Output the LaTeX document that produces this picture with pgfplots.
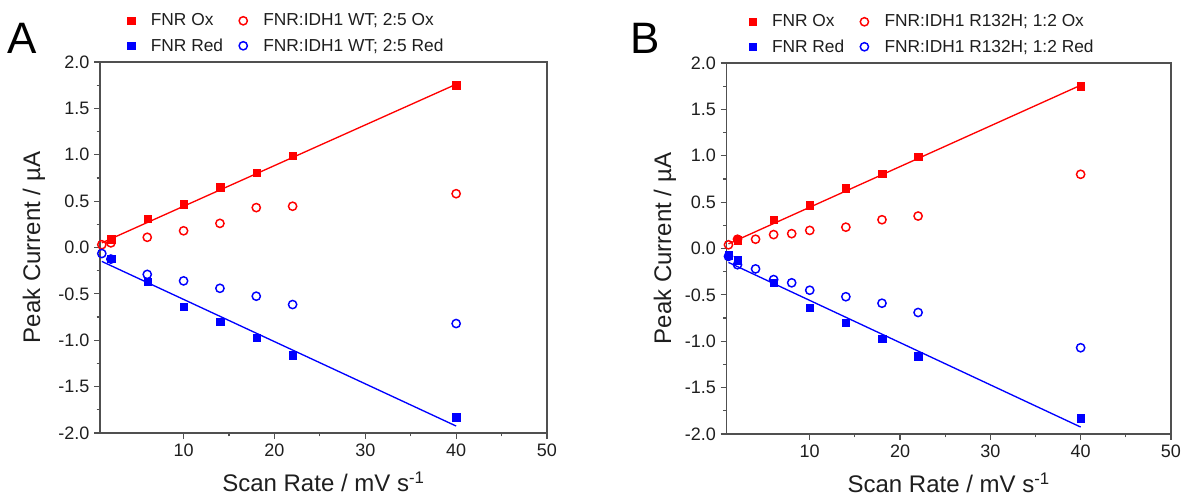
\documentclass[border=0pt]{standalone}
\usepackage{fontspec}
\setmainfont{Liberation Sans}
\usepackage{pgfplots}
\pgfplotsset{compat=1.18}
\definecolor{fr}{RGB}{255,0,0}
\definecolor{fb}{RGB}{0,0,255}
\definecolor{axc}{RGB}{80,80,80}
\definecolor{txt}{RGB}{30,30,30}
\pgfplotsset{
  panel/.style={
    scale only axis, height=278.25pt,
    xmin=0.8, xmax=50, ymin=-2, ymax=2,
    xtick={10,20,30,40,50}, ytick={-2,-1.5,-1,-0.5,0,0.5,1,1.5,2},
    minor x tick num=1, minor y tick num=1,
    tick pos=left, tick align=outside,
    major tick length=4.5pt, minor tick length=2.6pt,
    axis line style={axc, line width=1pt},
    every tick/.style={axc, line width=0.9pt},
    /pgf/number format/assume math mode=true,
    tick label style={font=\fontsize{13.5}{15}\selectfont, text=txt},
    yticklabel style={/pgf/number format/.cd, fixed, fixed zerofill, precision=1},
    xticklabel style={/pgf/number format/.cd, fixed, precision=0},
    label style={font=\fontsize{18}{20}\selectfont, text=txt},
    xlabel={Scan Rate / mV s\textsuperscript{-1}},
    ylabel={Peak Current / µA},
    xlabel style={at={(axis description cs:0.5,-0.132)}, anchor=center},
    legend columns=2, legend cell align=left,
    legend style={draw=none, fill=none, font=\fontsize{13}{15}\selectfont, text=txt,
      anchor=north west, inner sep=0pt, row sep=4pt,
      /tikz/every odd column/.append style={column sep=10pt},
      /tikz/every even column/.append style={column sep=10pt}},
    sq/.style={only marks, mark=square*, mark size=2.75pt, mark options={solid, line width=0.1pt}},
    ci/.style={only marks, mark=o, mark size=3.1pt, mark options={solid, line width=1.1pt}},
    fit/.style={no marks, line width=1pt, forget plot},
  }
}
\begin{document}
\begin{tikzpicture}
\useasboundingbox (0,0) rectangle (902.25pt,372pt);
% Panel A
\begin{axis}[panel, width=335.25pt, at={(75pt,47.25pt)}, anchor=south west,
  ylabel style={at={(axis description cs:-0.148,0.5)}, anchor=center},
  legend style={at={(axis description cs:0.061,1.138)}}]
\addplot[sq, color=fr] coordinates {(2,0.09) (6,0.31) (10,0.47) (14,0.65) (18,0.81) (22,0.99) (40,1.75)};
\addlegendentry{FNR Ox}
\addplot[ci, color=fr] coordinates {(1,0.03) (2,0.05) (6,0.11) (10,0.18) (14,0.26) (18,0.43) (22,0.445) (40,0.58)};
\addlegendentry{FNR:IDH1 WT; 2:5 Ox}
\addplot[sq, color=fb] coordinates {(2,-0.12) (6,-0.37) (10,-0.64) (14,-0.80) (18,-0.97) (22,-1.16) (40,-1.83)};
\addlegendentry{FNR Red}
\addplot[ci, color=fb] coordinates {(1,-0.065) (2,-0.125) (6,-0.29) (10,-0.36) (14,-0.44) (18,-0.525) (22,-0.615) (40,-0.82)};
\addlegendentry{FNR:IDH1 WT; 2:5 Red}
\addplot[fit, color=fr] coordinates {(1,0.05) (40,1.76)};
\addplot[fit, color=fb] coordinates {(1,-0.15) (40,-1.925)};
\end{axis}
% Panel B
\begin{axis}[panel, width=333.2pt, at={(545pt,46.5pt)}, anchor=south west,
  ylabel style={at={(axis description cs:-0.139,0.5)}, anchor=center},
  legend style={at={(axis description cs:0.049,1.138)}}]
\addplot[sq, color=fr] coordinates {(2,0.09) (6,0.31) (10,0.47) (14,0.65) (18,0.81) (22,0.99) (40,1.75)};
\addlegendentry{FNR Ox}
\addplot[ci, color=fr] coordinates {(1,0.04) (2,0.10) (4,0.10) (6,0.15) (8,0.16) (10,0.195) (14,0.23) (18,0.31) (22,0.35) (40,0.80)};
\addlegendentry{FNR:IDH1 R132H; 1:2 Ox}
\addplot[sq, color=fb] coordinates {(1,-0.07) (2,-0.125) (6,-0.37) (10,-0.64) (14,-0.80) (18,-0.97) (22,-1.16) (40,-1.83)};
\addlegendentry{FNR Red}
\addplot[ci, color=fb] coordinates {(1,-0.085) (2,-0.175) (4,-0.22) (6,-0.335) (8,-0.37) (10,-0.45) (14,-0.52) (18,-0.59) (22,-0.69) (40,-1.07)};
\addlegendentry{FNR:IDH1 R132H; 1:2 Red}
\addplot[fit, color=fr] coordinates {(1,0.05) (40,1.76)};
\addplot[fit, color=fb] coordinates {(1,-0.15) (40,-1.925)};
\end{axis}
\node[font=\fontsize{33}{36}\selectfont, text=black] at (16.5pt,343pt) {A};
\node[font=\fontsize{33}{36}\selectfont, text=black] at (483.75pt,343pt) {B};
\end{tikzpicture}
\end{document}
